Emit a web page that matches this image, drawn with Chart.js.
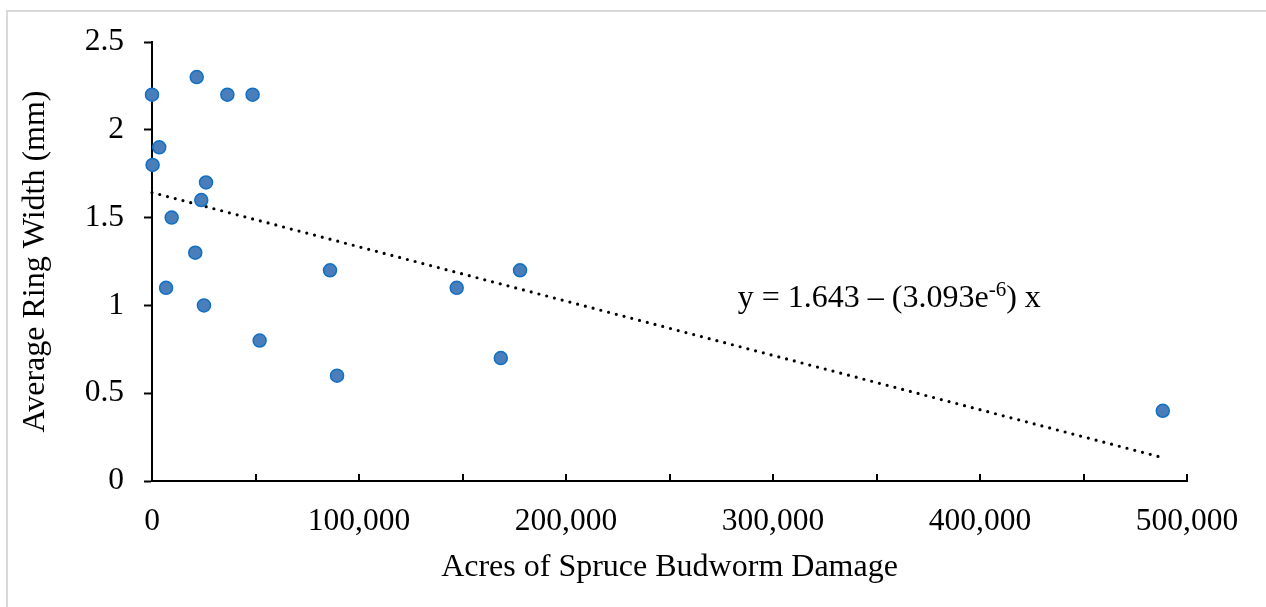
<!DOCTYPE html>
<html>
<head>
<meta charset="utf-8">
<script src="https://cdn.jsdelivr.net/npm/chart.js@4"></script>
<style>
  html, body { margin: 0; padding: 0; background: #fff; overflow: hidden; }
  #frame { position: absolute; left: 6px; top: 10px; width: 1400px; height: 700px; border: 2px solid #d9d9d9; }
  #chart { position: absolute; left: 0; top: 0; }
</style>
</head>
<body>
<div id="frame"></div>
<canvas id="chart" width="1266" height="607"></canvas>
<script>
// Acres of damage (x) vs average ring width (y)
const acres = [0, 21600, 36400, 48600, 3500, 300, 26100, 23800, 9500, 6800,
               20900, 25100, 52000, 86000, 89400, 147200, 168500, 177800, 488300];
const ringWidth = [2.2, 2.3, 2.2, 2.2, 1.9, 1.8, 1.7, 1.6, 1.5, 1.1,
                   1.3, 1.0, 0.8, 1.2, 0.6, 1.1, 0.7, 1.2, 0.4];

// fitted trendline end points
const trendX = [0, 488300];
const trendY = [1.643, 0.133];

// axis ticks
const xTicks = [0, 100000, 200000, 300000, 400000, 500000];
const yTicks = [0, 0.5, 1, 1.5, 2, 2.5];

// equation label anchor (data units) and its text pieces
const eqAt = { x: 283000, y: 0.99 };
const eqParts = ['y = 1.643 \u2013 (3.093e', '-6', ') x'];

const FONT = "'Liberation Serif', 'Times New Roman', serif";

const pts = acres.map((a, i) => ({ x: a, y: ringWidth[i] }));
const trend = trendX.map((a, i) => ({ x: a, y: trendY[i] }));

// small inward tick marks on the x axis + the equation text
const extras = {
    id: 'extras',
    afterDraw(chart) {
        const ctx = chart.ctx;
        const xs = chart.scales.x;
        const ys = chart.scales.y;
        const bottom = chart.chartArea.bottom;
        ctx.save();
        ctx.strokeStyle = '#000';
        ctx.lineWidth = 2;
        xs.ticks.forEach(t => {
            const px = Math.round(xs.getPixelForValue(t.value));
            ctx.beginPath();
            ctx.moveTo(px, bottom);
            ctx.lineTo(px, bottom - 7);
            ctx.stroke();
        });

        // equation
        let x = xs.getPixelForValue(eqAt.x);
        const y = ys.getPixelForValue(eqAt.y);
        ctx.fillStyle = '#000';
        ctx.textBaseline = 'alphabetic';
        ctx.textAlign = 'left';
        ctx.font = '32px ' + FONT;
        ctx.fillText(eqParts[0], x, y);
        x += ctx.measureText(eqParts[0]).width;
        ctx.font = '21px ' + FONT;
        ctx.fillText(eqParts[1], x, y - 11);
        x += ctx.measureText(eqParts[1]).width;
        ctx.font = '32px ' + FONT;
        ctx.fillText(eqParts[2], x, y);
        ctx.restore();
    }
};

new Chart(document.getElementById('chart'), {
    type: 'scatter',
    data: {
        datasets: [{
            label: 'Ring width',
            data: pts,
            backgroundColor: '#4A7EBB',
            borderColor: '#1070C4',
            borderWidth: 1.5,
            pointRadius: 6.5,
            clip: false,
            order: 1
        }, {
            label: 'Trend',
            type: 'line',
            data: trend,
            borderColor: '#000',
            borderWidth: 3.2,
            borderDash: [0, 8],
            borderCapStyle: 'round',
            pointRadius: 0,
            fill: false,
            clip: false,
            order: 2
        }]
    },
    options: {
        responsive: false,
        animation: false,
        devicePixelRatio: 1,
        layout: { padding: { top: 42, right: 79, left: 0, bottom: 0 } },
        plugins: { legend: { display: false }, tooltip: { enabled: false } },
        scales: {
            x: {
                type: 'linear',
                min: 0,
                max: 500000,
                afterFit: s => { s.height = 126; },
                afterBuildTicks: s => {
                    // major labels every 100k, unlabeled marks every 50k
                    const all = [];
                    for (let i = 0; i < xTicks.length; i++) {
                        all.push({ value: xTicks[i] });
                        if (i < xTicks.length - 1) all.push({ value: (xTicks[i] + xTicks[i + 1]) / 2 });
                    }
                    s.ticks = all;
                },
                ticks: {
                    color: '#000',
                    font: { family: FONT, size: 31.5 },
                    padding: 22,
                    maxRotation: 0,
                    autoSkip: false,
                    callback: v => xTicks.includes(v) ? v.toLocaleString('en-US') : ''
                },
                grid: { display: false, drawTicks: false },
                border: { display: true, color: '#000', width: 2 },
                title: {
                    display: true,
                    text: 'Acres of Spruce Budworm Damage',
                    color: '#000',
                    font: { family: FONT, size: 32 },
                    padding: { top: 0, bottom: 20 }
                }
            },
            y: {
                min: 0,
                max: 2.5,
                afterFit: s => { s.width = 152; },
                afterBuildTicks: s => { s.ticks = yTicks.map(v => ({ value: v })); },
                ticks: {
                    color: '#000',
                    font: { family: FONT, size: 31.5 },
                    padding: 20,
                    callback: v => String(v)
                },
                grid: {
                    display: true,
                    drawOnChartArea: false,
                    drawTicks: true,
                    tickLength: 8,
                    tickWidth: 2,
                    tickColor: '#000'
                },
                border: { display: true, color: '#000', width: 2 },
                title: {
                    display: true,
                    text: 'Average Ring Width (mm)',
                    color: '#000',
                    font: { family: FONT, size: 32 },
                    padding: { top: 16, bottom: 0 }
                }
            }
        }
    },
    plugins: [extras]
});
</script>
</body>
</html>
